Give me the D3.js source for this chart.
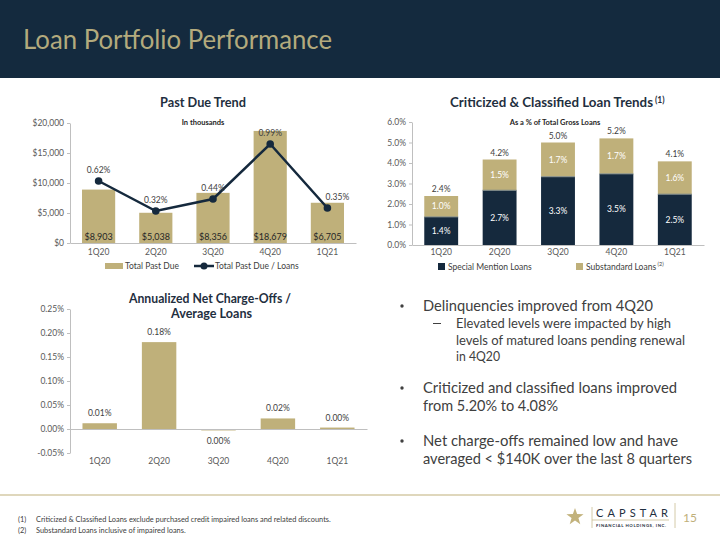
<!DOCTYPE html>
<html><head><meta charset="utf-8">
<script src="https://cdn.jsdelivr.net/npm/d3@7"></script>
<style>
body{margin:0;background:#fff}
svg{display:block}
text{font-family:Lato,"Open Sans",sans-serif}
</style>
</head><body>
<svg id="c" width="720" height="540"></svg>
<script>
// ---------- data ----------
const quarters = ["1Q20","2Q20","3Q20","4Q20","1Q21"];
const pastDue = [8903,5038,8356,18679,6705];
const pastDueRatio = [0.62,0.32,0.44,0.99,0.35];
const pastDueTicks = [0,5000,10000,15000,20000];
const specialMention = [1.37,2.67,3.33,3.47,2.48];
const substandard = [1.02,1.50,1.67,1.73,1.60];
const specialLabels = ["1.4%","2.7%","3.3%","3.5%","2.5%"];
const substandardLabels = ["1.0%","1.5%","1.7%","1.7%","1.6%"];
const totalLabels = ["2.4%","4.2%","5.0%","5.2%","4.1%"];
const critTicks = [0,1,2,3,4,5,6];
const nco = [0.012,0.181,-0.003,0.022,0.003];
const ncoLabels = ["0.01%","0.18%","0.00%","0.02%","0.00%"];
const ncoTicks = [-0.05,0,0.05,0.10,0.15,0.20,0.25];

const TAN = "#bfb07a", NAVY = "#15293d", GRAY = "#595959", AXIS = "#bfbfbf";
const svg = d3.select("#c");

// ---------- header ----------
svg.append("rect").attr("x",0).attr("y",0).attr("width",720).attr("height",78).attr("fill","#142a3e");
svg.append("text").attr("x",23).attr("y",49).attr("font-size",26).attr("fill","#b3aa7d")
  .attr("textLength",309).attr("lengthAdjust","spacingAndGlyphs").text("Loan Portfolio Performance");

function title(g, s, x, y, w){
  g.append("text").attr("x",x).attr("y",y).attr("font-size",13)
    .attr("font-weight","bold").attr("fill","#1f2f40")
    .attr("textLength",w).attr("lengthAdjust","spacingAndGlyphs").text(s);
}
function yAxisDraw(g, scale, x, ticks, fmt){
  const ax = d3.axisLeft(scale).tickValues(ticks).tickFormat(fmt).tickSizeInner(3).tickSizeOuter(0).tickPadding(3);
  const a = g.append("g").attr("transform",`translate(${x},0)`).call(ax);
  a.select(".domain").attr("stroke",AXIS);
  a.selectAll(".tick line").attr("stroke",AXIS);
  a.selectAll(".tick text").attr("fill",GRAY).attr("font-size",8.5).attr("font-family","Lato");
  return a;
}
function xAxisDraw(g, scale, y, pad){
  const ax = d3.axisBottom(scale).tickSize(0).tickPadding(pad);
  const a = g.append("g").attr("transform",`translate(0,${y})`).call(ax);
  a.select(".domain").attr("stroke",AXIS);
  a.selectAll(".tick text").attr("fill",GRAY).attr("font-size",8.5).attr("font-family","Lato");
  return a;
}

// ---------- Chart 1: Past Due Trend ----------
{
  const g = svg.append("g");
  const x = d3.scaleBand().domain(quarters).range([70,356]).paddingInner(0.42).paddingOuter(0.21);
  const y = d3.scaleLinear().domain([0,20000]).range([243,123]);
  const y2 = d3.scaleLinear().domain([0,1.2]).range([243,123]);
  title(g, "Past Due Trend", 160, 107, 86);
  g.append("text").attr("x",203).attr("y",125).attr("text-anchor","middle").attr("font-size",7.5)
    .attr("font-weight","bold").attr("fill","#262626").text("In thousands");
  g.selectAll(".b").data(quarters).join("rect")
    .attr("x",d=>x(d)).attr("width",x.bandwidth())
    .attr("y",(d,i)=>y(pastDue[i])).attr("height",(d,i)=>y(0)-y(pastDue[i])).attr("fill",TAN);
  yAxisDraw(g, y, 70, pastDueTicks, d3.format("$,"));
  xAxisDraw(g, x, 243, 6);
  g.selectAll(".bl").data(quarters).join("text")
    .attr("x",d=>x(d)+x.bandwidth()/2).attr("y",240).attr("text-anchor","middle")
    .attr("font-size",9).attr("fill","#262626").text((d,i)=>d3.format("$,")(pastDue[i]));
  const cx = (d,i)=>x(quarters[i])+x.bandwidth()/2;
  const line = d3.line().x(cx).y(d=>y2(d));
  g.append("path").datum(pastDueRatio).attr("d",line).attr("fill","none").attr("stroke",NAVY).attr("stroke-width",2.5);
  g.selectAll(".pt").data(pastDueRatio).join("circle")
    .attr("cx",cx).attr("cy",d=>y2(d)).attr("r",3.8).attr("fill",NAVY);
  g.selectAll(".pl").data(pastDueRatio).join("text")
    .attr("x",cx).attr("dx",(d,i)=> i===pastDueRatio.length-1 ? 10 : 0)
    .attr("y",d=>y2(d)-8).attr("text-anchor","middle")
    .attr("font-size",8.5).attr("fill","#404040").text(d=>d.toFixed(2)+"%");
  // legend
  g.append("rect").attr("x",105).attr("y",263).attr("width",18).attr("height",6).attr("fill",TAN);
  g.append("text").attr("x",125).attr("y",269).attr("font-size",8.5).attr("fill","#404040").text("Total Past Due");
  g.append("line").attr("x1",194).attr("x2",214).attr("y1",266).attr("y2",266).attr("stroke",NAVY).attr("stroke-width",2.5);
  g.append("circle").attr("cx",204).attr("cy",266).attr("r",3.5).attr("fill",NAVY);
  g.append("text").attr("x",215).attr("y",269).attr("font-size",8.5).attr("fill","#404040").text("Total Past Due / Loans");
}

// ---------- Chart 2: Criticized & Classified ----------
{
  const g = svg.append("g");
  const x = d3.scaleBand().domain(quarters).range([412,704]).paddingInner(0.42).paddingOuter(0.21);
  const y = d3.scaleLinear().domain([0,6]).range([245,122]);
  title(g, "Criticized & Classified Loan Trends", 450, 107, 203);
  g.append("text").attr("x",655).attr("y",103).attr("font-size",8.5).attr("font-weight","bold").attr("fill","#1f2f40").text("(1)");
  g.append("text").attr("x",555).attr("y",125).attr("text-anchor","middle").attr("font-size",7.5)
    .attr("font-weight","bold").attr("fill","#262626").text("As a % of Total Gross Loans");
  const stacked = quarters.map((q,i)=>({q, s:specialMention[i], u:substandard[i]}));
  g.selectAll(".s").data(stacked).join("rect")
    .attr("x",d=>x(d.q)).attr("width",x.bandwidth()).attr("y",d=>y(d.s)).attr("height",d=>y(0)-y(d.s)).attr("fill",NAVY);
  g.selectAll(".u").data(stacked).join("rect")
    .attr("x",d=>x(d.q)).attr("width",x.bandwidth()).attr("y",d=>y(d.s+d.u)).attr("height",d=>y(d.s)-y(d.s+d.u)).attr("fill",TAN);
  g.selectAll(".sep").data(stacked).join("line")
    .attr("x1",d=>x(d.q)).attr("x2",d=>x(d.q)+x.bandwidth()).attr("y1",d=>y(d.s)).attr("y2",d=>y(d.s))
    .attr("stroke","#7f8a8a").attr("stroke-width",1);
  yAxisDraw(g, y, 412, critTicks, d=>d.toFixed(1)+"%");
  xAxisDraw(g, x, 245, 4);
  g.selectAll(".sl").data(stacked).join("text")
    .attr("x",d=>x(d.q)+x.bandwidth()/2).attr("y",d=>(y(d.s)+y(0))/2+3).attr("text-anchor","middle")
    .attr("font-size",8.5).attr("fill","#ffffff").text((d,i)=>specialLabels[i]);
  g.selectAll(".ul").data(stacked).join("text")
    .attr("x",d=>x(d.q)+x.bandwidth()/2).attr("y",d=>(y(d.s)+y(d.s+d.u))/2+3).attr("text-anchor","middle")
    .attr("font-size",8.5).attr("fill","#ffffff").text((d,i)=>substandardLabels[i]);
  g.selectAll(".tl").data(stacked).join("text")
    .attr("x",d=>x(d.q)+x.bandwidth()/2).attr("y",d=>y(d.s+d.u)-4).attr("text-anchor","middle")
    .attr("font-size",8.5).attr("fill","#404040").text((d,i)=>totalLabels[i]);
  // legend
  g.append("rect").attr("x",438).attr("y",263).attr("width",7).attr("height",7).attr("fill",NAVY);
  g.append("text").attr("x",448).attr("y",270).attr("font-size",8.5).attr("fill","#404040").text("Special Mention Loans");
  g.append("rect").attr("x",576).attr("y",263).attr("width",7).attr("height",7).attr("fill",TAN);
  const lt = g.append("text").attr("x",586).attr("y",270).attr("font-size",8.5).attr("fill","#404040");
  lt.append("tspan").text("Substandard Loans");
  lt.append("tspan").attr("font-size",5.5).attr("dy",-4).text(" (2)");
}

// ---------- Chart 3: Net Charge-Offs ----------
{
  const g = svg.append("g");
  const x = d3.scaleBand().domain(quarters).range([70,367]).paddingInner(0.42).paddingOuter(0.21);
  const y = d3.scaleLinear().domain([-0.05,0.25]).range([453,309]);
  title(g, "Annualized Net Charge-Offs /", 129, 303, 162);
  title(g, "Average Loans", 171, 318, 81);
  yAxisDraw(g, y, 70, ncoTicks, d=>d.toFixed(2)+"%");
  g.selectAll(".b").data(quarters).join("rect")
    .attr("x",d=>x(d)).attr("width",x.bandwidth())
    .attr("y",(d,i)=>y(Math.max(0,nco[i]))).attr("height",(d,i)=>Math.abs(y(nco[i])-y(0))).attr("fill",TAN);
  const ax = g.append("g").attr("transform",`translate(0,${y(0)})`).call(d3.axisBottom(x).tickSize(0).tickFormat(""));
  ax.select(".domain").attr("stroke",AXIS);
  g.selectAll(".xl").data(quarters).join("text")
    .attr("x",d=>x(d)+x.bandwidth()/2).attr("y",464).attr("text-anchor","middle")
    .attr("font-size",8.5).attr("fill",GRAY).text(d=>d);
  g.selectAll(".vl").data(quarters).join("text")
    .attr("x",d=>x(d)+x.bandwidth()/2)
    .attr("y",(d,i)=> nco[i] < 0 ? y(nco[i]) + 14 : y(nco[i]) - 7)
    .attr("text-anchor","middle").attr("font-size",8.5).attr("fill","#404040").text((d,i)=>ncoLabels[i]);
}

// ---------- bullets ----------
{
  const g = svg.append("g").attr("fill","#404040");
  const items = [
    {t:"bullet", y:311, w:230, s:"Delinquencies improved from 4Q20"},
    {t:"dash", y:328, w:215, s:"Elevated levels were impacted by high"},
    {t:"cont", y:345, w:229, s:"levels of matured loans pending renewal"},
    {t:"cont", y:361, w:44, s:"in 4Q20"},
    {t:"bullet", y:393, w:254, s:"Criticized and classified loans improved"},
    {t:"cont1", y:411, w:135, s:"from 5.20% to 4.08%"},
    {t:"bullet", y:446, w:255, s:"Net charge-offs remained low and have"},
    {t:"cont1", y:464, w:269, s:"averaged < $140K over the last 8 quarters"}
  ];
  items.forEach(it=>{
    const main = it.t==="bullet"||it.t==="cont1";
    if(it.t==="bullet"){
      g.append("circle").attr("cx",402).attr("cy",it.y-5).attr("r",1.7).attr("fill","#404040");
    }
    if(it.t==="dash"){
      g.append("line").attr("x1",433).attr("x2",441).attr("y1",it.y-4.5).attr("y2",it.y-4.5).attr("stroke","#404040").attr("stroke-width",1);
    }
    g.append("text").attr("x",main?423:456).attr("y",it.y).attr("font-size",main?15:13)
      .attr("textLength",it.w).attr("lengthAdjust","spacingAndGlyphs").text(it.s);
  });
}

// ---------- footer ----------
svg.append("line").attr("x1",0).attr("x2",720).attr("y1",495).attr("y2",495).attr("stroke","#bfb07a").attr("stroke-width",1.2);
[["(1)","Criticized & Classified Loans exclude purchased credit impaired loans and related discounts.",522],
 ["(2)","Substandard Loans inclusive of impaired loans.",533]].forEach(([a,b,yy])=>{
  svg.append("text").attr("x",18).attr("y",yy).attr("font-size",7.4).attr("fill","#404040").text(a);
  svg.append("text").attr("x",36).attr("y",yy).attr("font-size",7.4).attr("fill","#404040").text(b);
});
// logo
{
  const g = svg.append("g");
  const cx=575, cy=517, R=9, r=3.6;
  const pts = d3.range(10).map(i=>{const a=-Math.PI/2+i*Math.PI/5; const rr=i%2?r:R; return [cx+rr*Math.cos(a), cy+rr*Math.sin(a)];});
  g.append("polygon").attr("points",pts.map(p=>p.join(",")).join(" ")).attr("fill","#c2b27c");
  g.append("line").attr("x1",592).attr("x2",592).attr("y1",507).attr("y2",528).attr("stroke","#c9bd93").attr("stroke-width",0.8);
  g.append("line").attr("x1",592).attr("x2",669).attr("y1",520).attr("y2",520).attr("stroke","#c9bd93").attr("stroke-width",0.8);
  g.append("text").attr("x",596).attr("y",517).attr("font-size",11).attr("fill","#1f2f40")
    .attr("textLength",72).attr("lengthAdjust","spacing").text("CAPSTAR");
  g.append("text").attr("x",596).attr("y",527).attr("font-size",4.3).attr("font-weight","bold").attr("fill","#1f2f40")
    .attr("textLength",70).attr("lengthAdjust","spacing").text("FINANCIAL HOLDINGS, INC.");
  g.append("line").attr("x1",675).attr("x2",675).attr("y1",503).attr("y2",528).attr("stroke","#c9bd93").attr("stroke-width",0.8);
  g.append("text").attr("x",683).attr("y",522).attr("font-size",12).attr("fill","#bfb07a").text("15");
}
</script>
</body></html>
